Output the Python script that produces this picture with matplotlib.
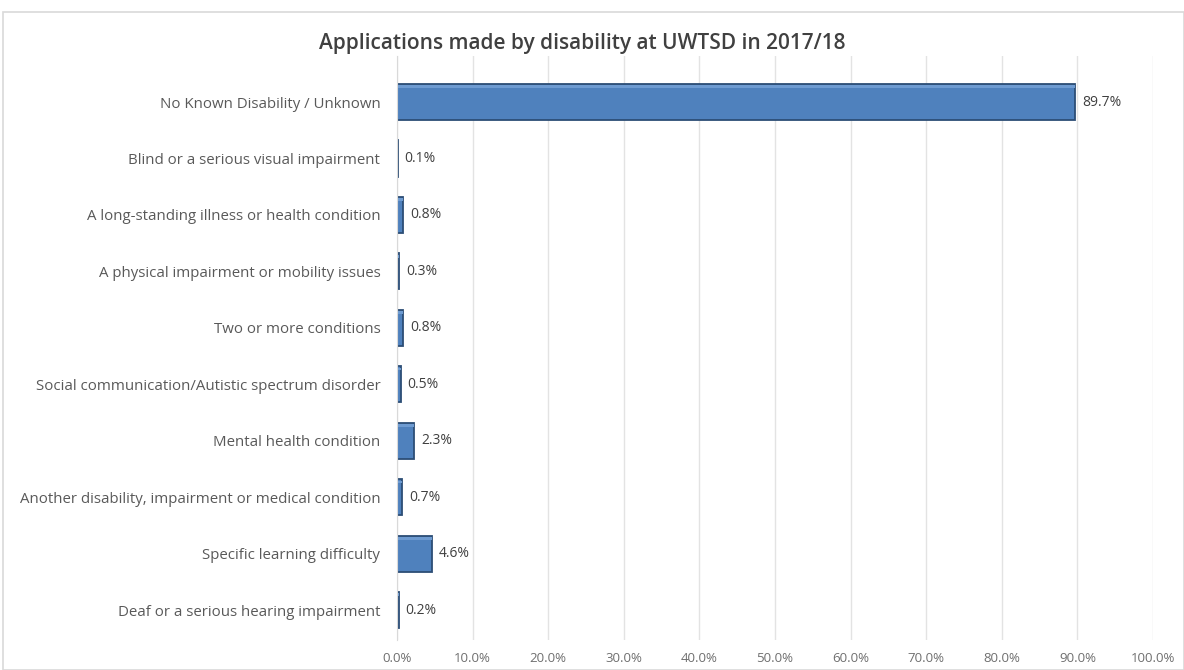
import matplotlib.pyplot as plt
from matplotlib.patches import Rectangle
from matplotlib.ticker import FuncFormatter

categories = [
    "No Known Disability / Unknown",
    "Blind or a serious visual impairment",
    "A long-standing illness or health condition",
    "A physical impairment or mobility issues",
    "Two or more conditions",
    "Social communication/Autistic spectrum disorder",
    "Mental health condition",
    "Another disability, impairment or medical condition",
    "Specific learning difficulty",
    "Deaf or a serious hearing impairment",
]
values = [89.7, 0.1, 0.8, 0.3, 0.8, 0.5, 2.3, 0.7, 4.6, 0.2]
title = "Applications made by disability at UWTSD in 2017/18"

plt.rcParams["font.family"] = ["Open Sans", "DejaVu Sans"]

fig = plt.figure(figsize=(11.84, 6.70), dpi=100)
fig.patches.append(Rectangle((3 / 1184, 0), 1 - 3 / 1184, 1 - 12 / 670,
                             transform=fig.transFigure, fill=False,
                             edgecolor="#d9d9d9", linewidth=1.2))

ax = fig.add_axes([397 / 1184, 1 - 640 / 670, 756 / 1184, 584 / 670])
y = list(range(len(categories)))
ax.barh(y, values, height=0.64, color="#4f81bd", edgecolor="#2c4d75", linewidth=1.3)
# subtle lighter strip near the top edge (excel-like bevel)
ax.barh([yi - 0.27 for yi in y], values, height=0.05, color="#6e9bd1", linewidth=0)
for yi, v in zip(y, values):
    ax.text(v + 0.9, yi, f"{v:.1f}%", va="center", ha="left", fontsize=10, color="#404040")

ax.set_xlim(0, 100)
ax.set_ylim(9.53, -0.816)
ax.set_xticks(range(0, 101, 10))
ax.xaxis.set_major_formatter(FuncFormatter(lambda x, _: f"{x:.1f}%"))
ax.set_yticks(y)
ax.set_yticklabels(categories)
ax.tick_params(axis="x", length=0, pad=9, labelsize=9.5, labelcolor="#6f6f6f")
ax.tick_params(axis="y", length=0, pad=12, labelsize=10.8, labelcolor="#595959")
ax.grid(axis="x", color="#e3e3e3", linewidth=1)
ax.set_axisbelow(True)
for s in ["top", "right", "bottom"]:
    ax.spines[s].set_visible(False)
ax.spines["left"].set_color("#d9d9d9")

fig.text(582 / 1184, 1 - 44 / 670, title, ha="center", va="center", fontsize=15,
         color="#404040", fontweight="semibold")

fig.savefig("out.png", dpi=100)
